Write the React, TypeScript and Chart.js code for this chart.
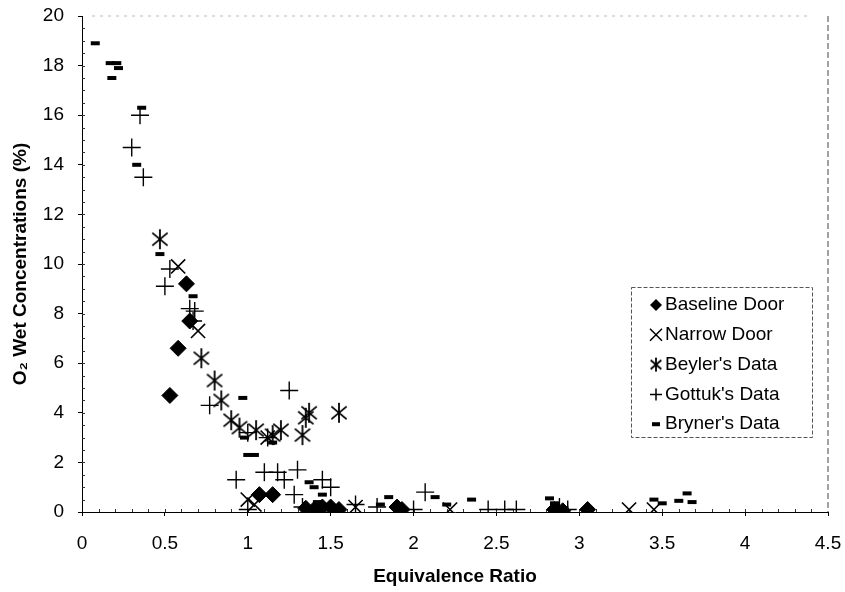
import React, { useEffect, useRef } from 'react';
import { Chart, registerables } from 'chart.js';
Chart.register(...registerables);

const xTicks = [0, 0.5, 1, 1.5, 2, 2.5, 3, 3.5, 4, 4.5];
const yTicks = [0, 2, 4, 6, 8, 10, 12, 14, 16, 18, 20];

const baselineX = [0.53, 0.58, 0.63, 0.65, 1.07, 1.15, 1.35, 1.40, 1.45, 1.50, 1.55, 1.90, 1.93, 2.85, 2.90, 3.05];
const baselineY = [4.7, 6.6, 9.2, 7.7, 0.7, 0.7, 0.15, 0.1, 0.2, 0.2, 0.1, 0.2, 0.1, 0.1, 0.05, 0.1];

const narrowX = [0.58, 0.70, 1.00, 1.04, 1.12, 1.65, 2.22, 3.30, 3.45];
const narrowY = [9.9, 7.3, 0.5, 0.3, 3.0, 0.2, 0.1, 0.1, 0.1];

const beylerX = [0.47, 0.72, 0.80, 0.84, 0.90, 0.95, 1.05, 1.15, 1.20, 1.33, 1.35, 1.37, 1.55];
const beylerY = [11.0, 6.2, 5.3, 4.5, 3.7, 3.4, 3.3, 3.1, 3.3, 3.1, 3.8, 4.0, 4.0];

const gottukX = [0.35, 0.30, 0.37, 0.50, 0.53, 0.65, 0.68, 0.67, 0.77, 0.93, 1.00, 1.12, 1.10, 1.18, 1.22, 1.25, 1.30, 1.28, 1.00, 1.33, 1.45, 1.50, 2.07, 1.65, 1.78, 2.00, 2.45, 2.55, 2.62, 2.88, 2.93];
const gottukY = [16.0, 14.7, 13.5, 9.1, 9.8, 8.2, 8.1, 7.7, 4.3, 1.3, 3.2, 3.0, 1.6, 1.6, 1.3, 4.9, 1.7, 0.7, 0.1, 0.2, 1.3, 1.0, 0.8, 0.3, 0.2, 0.1, 0.1, 0.1, 0.1, 0.2, 0.1];

const brynerX = [0.08, 0.17, 0.21, 0.22, 0.18, 0.36, 0.33, 0.47, 0.67, 0.97, 0.98, 1.00, 1.04, 1.15, 1.37, 1.40, 1.45, 1.42, 1.80, 1.85, 2.13, 2.20, 2.35, 2.82, 2.85, 3.45, 3.50, 3.60, 3.65, 3.68];
const brynerY = [18.9, 18.1, 18.1, 17.9, 17.5, 16.3, 14.0, 10.4, 8.7, 4.6, 3.0, 2.3, 2.3, 2.8, 1.2, 1.0, 0.7, 0.4, 0.3, 0.6, 0.6, 0.3, 0.5, 0.55, 0.35, 0.5, 0.35, 0.45, 0.75, 0.4];

const seriesNames = ['Baseline Door', 'Narrow Door', "Beyler's Data", "Gottuk's Data", "Bryner's Data"];

const FONT = '"Liberation Sans", Arial, Helvetica, sans-serif';

function pts(xs: number[], ys: number[]) {
  return xs.map((x, i) => ({ x, y: ys[i] }));
}

function makeAsterisk(r: number): HTMLCanvasElement {
  const s = Math.ceil(r * 2 + 4);
  const c = document.createElement('canvas');
  c.width = s;
  c.height = s;
  const g = c.getContext('2d')!;
  g.strokeStyle = '#000';
  g.lineWidth = 1.8;
  const cx = s / 2;
  const cy = s / 2;
  g.beginPath();
  g.moveTo(cx, cy - r);
  g.lineTo(cx, cy + r);
  const a = (40 * Math.PI) / 180;
  const dx = r * Math.cos(a);
  const dy = r * Math.sin(a);
  g.moveTo(cx - dx, cy - dy);
  g.lineTo(cx + dx, cy + dy);
  g.moveTo(cx - dx, cy + dy);
  g.lineTo(cx + dx, cy - dy);
  g.stroke();
  return c;
}

function drawMarker(ctx: CanvasRenderingContext2D, kind: number, x: number, y: number, r: number, star: HTMLCanvasElement) {
  ctx.save();
  ctx.strokeStyle = '#000';
  ctx.fillStyle = '#000';
  ctx.lineWidth = 1.5;
  ctx.beginPath();
  if (kind === 0) {
    ctx.moveTo(x, y - r);
    ctx.lineTo(x + r, y);
    ctx.lineTo(x, y + r);
    ctx.lineTo(x - r, y);
    ctx.closePath();
    ctx.fill();
  } else if (kind === 1) {
    ctx.moveTo(x - r, y - r);
    ctx.lineTo(x + r, y + r);
    ctx.moveTo(x - r, y + r);
    ctx.lineTo(x + r, y - r);
    ctx.stroke();
  } else if (kind === 2) {
    ctx.drawImage(star, x - star.width / 2, y - star.height / 2);
  } else if (kind === 3) {
    ctx.moveTo(x - r, y);
    ctx.lineTo(x + r, y);
    ctx.moveTo(x, y - r);
    ctx.lineTo(x, y + r);
    ctx.stroke();
  } else {
    ctx.fillRect(x - 4, y - 2, 8, 4);
  }
  ctx.restore();
}

export default function App() {
  const ref = useRef<HTMLCanvasElement | null>(null);

  useEffect(() => {
    if (!ref.current) return;
    const star = makeAsterisk(10);
    const legendStar = makeAsterisk(7);

    const framePlugin = {
      id: 'frame',
      beforeDatasetsDraw(chart: any) {
        const { ctx, chartArea } = chart;
        const xs = chart.scales.x;
        const ys = chart.scales.y;
        ctx.save();
        ctx.strokeStyle = '#bbb';
        ctx.lineWidth = 1;
        ctx.setLineDash([3, 5]);
        ctx.beginPath();
        ctx.moveTo(chartArea.left + 10, chartArea.top);
        ctx.lineTo(chartArea.right - 20, chartArea.top);
        ctx.stroke();
        ctx.strokeStyle = '#444';
        ctx.setLineDash([6, 3]);
        ctx.beginPath();
        ctx.moveTo(chartArea.right, chartArea.top);
        ctx.lineTo(chartArea.right, chartArea.bottom);
        ctx.stroke();
        ctx.setLineDash([]);
        ctx.strokeStyle = '#333';
        ctx.beginPath();
        for (let v = 0.1; v < 4.5; v += 0.1) {
          const px = Math.round(xs.getPixelForValue(v)) + 0.5;
          ctx.moveTo(px, chartArea.bottom);
          ctx.lineTo(px, chartArea.bottom - 3);
        }
        for (let v = 0.5; v < 20; v += 0.5) {
          const py = Math.round(ys.getPixelForValue(v)) + 0.5;
          ctx.moveTo(chartArea.left, py);
          ctx.lineTo(chartArea.left + 3, py);
        }
        ctx.stroke();
        ctx.restore();
      },
      afterDraw(chart: any) {
        const { ctx } = chart;
        ctx.save();
        const bx = 631, by = 287, bw = 181, bh = 150;
        ctx.strokeStyle = '#555';
        ctx.lineWidth = 1;
        ctx.setLineDash([4, 2]);
        ctx.strokeRect(bx + 0.5, by + 0.5, bw, bh);
        ctx.setLineDash([]);
        ctx.font = '19px ' + FONT;
        ctx.fillStyle = '#000';
        ctx.textBaseline = 'middle';
        ctx.textAlign = 'left';
        seriesNames.forEach((name, i) => {
          const y = by + 18 + i * 29.8;
          drawMarker(ctx, i, 656, y, 6, legendStar);
          ctx.fillText(name, 665, y);
        });
        ctx.restore();
      },
    };

    const fmt = (v: any) => String(Number(v));

    const chart = new Chart(ref.current, {
      type: 'scatter',
      data: {
        datasets: [
          {
            label: seriesNames[0],
            data: pts(baselineX, baselineY),
            pointStyle: 'rectRot',
            pointRadius: 8,
            backgroundColor: '#000',
            borderColor: '#000',
            borderWidth: 1,
          },
          {
            label: seriesNames[1],
            data: pts(narrowX, narrowY),
            pointStyle: 'crossRot',
            pointRadius: 10,
            backgroundColor: '#000',
            borderColor: '#000',
            borderWidth: 1.6,
          },
          {
            label: seriesNames[2],
            data: pts(beylerX, beylerY),
            pointStyle: star as any,
            pointRadius: 10,
            backgroundColor: '#000',
            borderColor: '#000',
          },
          {
            label: seriesNames[3],
            data: pts(gottukX, gottukY),
            pointStyle: 'cross',
            pointRadius: 9,
            backgroundColor: '#000',
            borderColor: '#000',
            borderWidth: 1.4,
          },
          {
            label: seriesNames[4],
            data: pts(brynerX, brynerY),
            pointStyle: 'line',
            pointRadius: 4.5,
            backgroundColor: '#000',
            borderColor: '#000',
            borderWidth: 4,
          },
        ],
      },
      options: {
        animation: false,
        responsive: false,
        maintainAspectRatio: false,
        layout: { padding: { left: 0, right: 17, top: 16, bottom: 0 } },
        plugins: {
          legend: { display: false },
          tooltip: { enabled: false },
        },
        scales: {
          x: {
            type: 'linear',
            min: 0,
            max: 4.5,
            afterBuildTicks: (scale: any) => {
              scale.ticks = xTicks.map((v) => ({ value: v }));
            },
            afterFit: (scale: any) => {
              scale.height = 80;
              scale.paddingLeft = 0;
              scale.paddingRight = 0;
            },
            grid: { display: true, drawOnChartArea: false, drawTicks: true, tickLength: 4, color: '#000' },
            border: { display: true, color: '#000', width: 1 },
            ticks: { color: '#000', font: { family: FONT, size: 19 }, padding: 16, maxRotation: 0, callback: fmt },
            title: {
              display: true,
              text: 'Equivalence Ratio',
              color: '#000',
              font: { family: FONT, size: 19, weight: 'bold' },
              padding: { top: 0, bottom: 4 },
            },
          },
          y: {
            type: 'linear',
            min: 0,
            max: 20,
            afterBuildTicks: (scale: any) => {
              scale.ticks = yTicks.map((v) => ({ value: v }));
            },
            afterFit: (scale: any) => {
              scale.width = 82;
              scale.paddingTop = 0;
              scale.paddingBottom = 0;
            },
            grid: { display: true, drawOnChartArea: false, drawTicks: true, tickLength: 4, color: '#000' },
            border: { display: true, color: '#000', width: 1 },
            ticks: { color: '#000', font: { family: FONT, size: 19 }, padding: 14, callback: fmt },
            title: {
              display: true,
              text: 'O\u2082 Wet Concentrations (%)',
              color: '#000',
              font: { family: FONT, size: 19, weight: 'bold' },
              padding: { top: 9, bottom: 0 },
            },
          },
        },
      },
      plugins: [framePlugin],
    } as any);

    return () => chart.destroy();
  }, []);

  return (
    <div style={{ position: 'fixed', left: 0, top: 0, width: 845, height: 592, background: '#fff' }}>
      <canvas ref={ref} width={845} height={592} style={{ display: 'block', width: 845, height: 592 }} />
    </div>
  );
}
